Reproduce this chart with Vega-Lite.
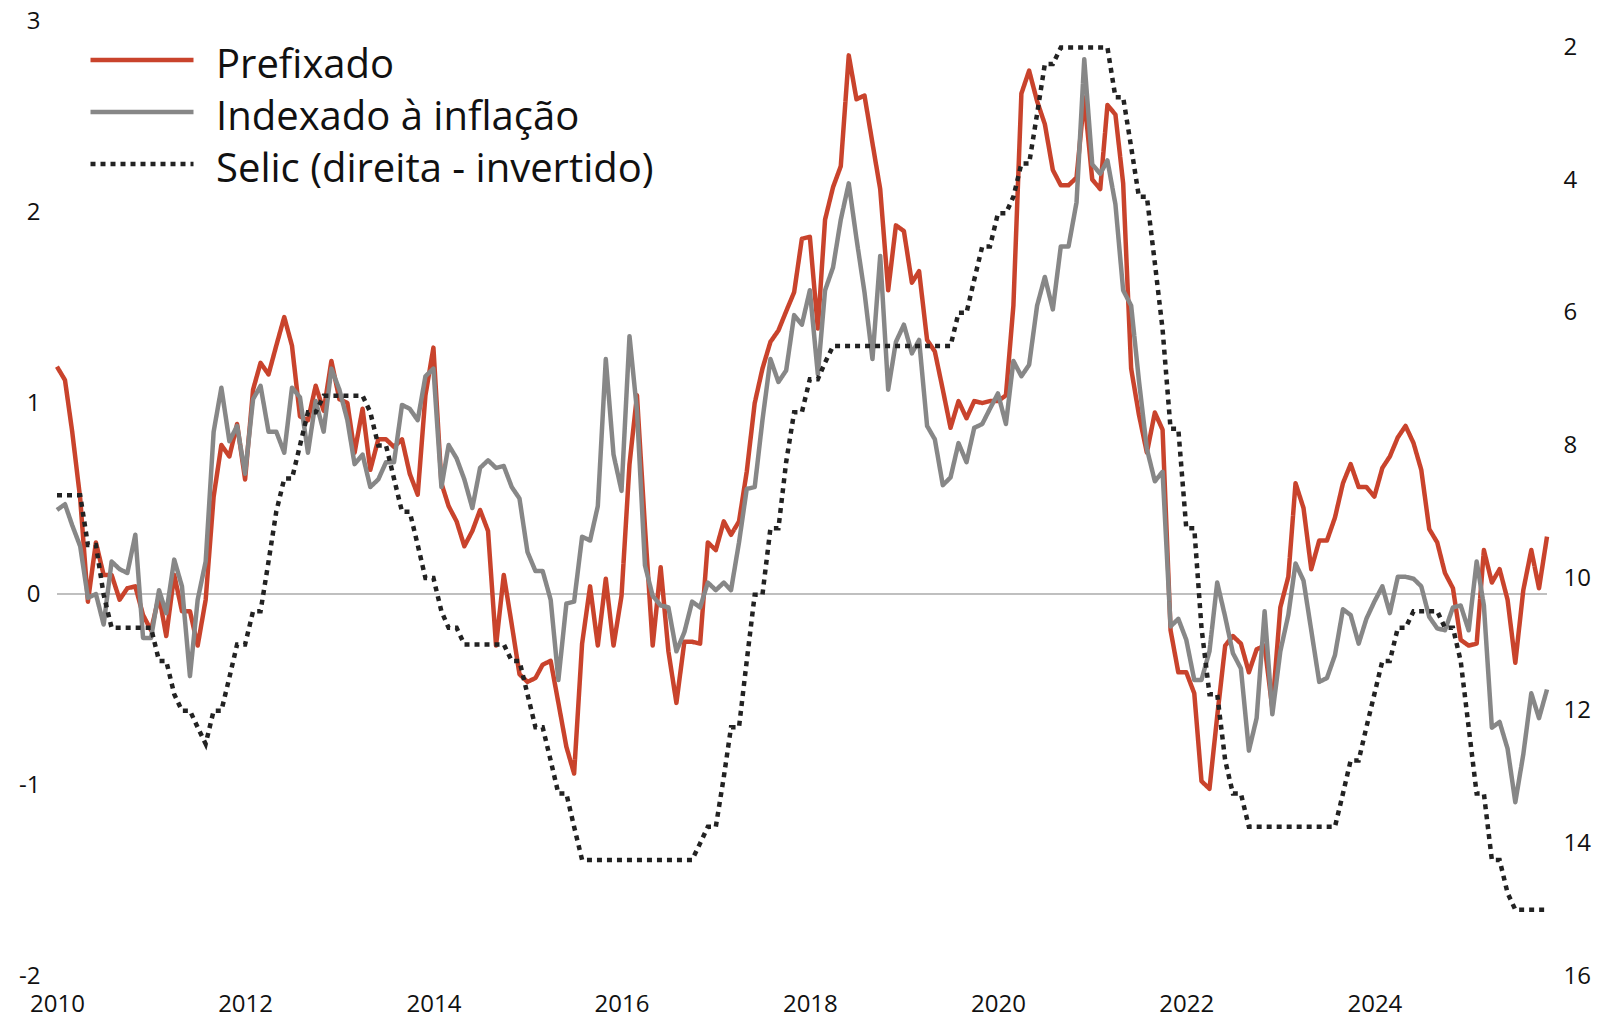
{
"$schema": "https://vega.github.io/schema/vega-lite/v6.json",
"width": 1490, "height": 955,
"autosize": {"type": "none"},
"padding": {"left": 57, "top": 21, "right": 54, "bottom": 41},
"background": "white",
"config": {"view": {"stroke": null}, "font": "Open Sans"},
"data": {"values": [
{"d":"2010-01-01","p":1.19,"i":0.44,"s":8.75},
{"d":"2010-02-01","p":1.12,"i":0.47,"s":8.75},
{"d":"2010-03-01","p":0.85,"i":0.36,"s":8.75},
{"d":"2010-04-01","p":0.50,"i":0.25,"s":8.75},
{"d":"2010-05-01","p":-0.04,"i":-0.02,"s":9.5},
{"d":"2010-06-01","p":0.27,"i":0.00,"s":9.5},
{"d":"2010-07-01","p":0.10,"i":-0.16,"s":10.25},
{"d":"2010-08-01","p":0.10,"i":0.17,"s":10.75},
{"d":"2010-09-01","p":-0.03,"i":0.13,"s":10.75},
{"d":"2010-10-01","p":0.03,"i":0.11,"s":10.75},
{"d":"2010-11-01","p":0.04,"i":0.31,"s":10.75},
{"d":"2010-12-01","p":-0.11,"i":-0.23,"s":10.75},
{"d":"2011-01-01","p":-0.19,"i":-0.23,"s":10.75},
{"d":"2011-02-01","p":-0.01,"i":0.02,"s":11.25},
{"d":"2011-03-01","p":-0.22,"i":-0.10,"s":11.25},
{"d":"2011-04-01","p":0.10,"i":0.18,"s":11.75},
{"d":"2011-05-01","p":-0.09,"i":0.04,"s":12},
{"d":"2011-06-01","p":-0.09,"i":-0.43,"s":12},
{"d":"2011-07-01","p":-0.27,"i":-0.03,"s":12.25},
{"d":"2011-08-01","p":-0.03,"i":0.17,"s":12.5},
{"d":"2011-09-01","p":0.51,"i":0.85,"s":12},
{"d":"2011-10-01","p":0.78,"i":1.08,"s":12},
{"d":"2011-11-01","p":0.72,"i":0.80,"s":11.5},
{"d":"2011-12-01","p":0.89,"i":0.88,"s":11},
{"d":"2012-01-01","p":0.60,"i":0.63,"s":11},
{"d":"2012-02-01","p":1.07,"i":1.02,"s":10.5},
{"d":"2012-03-01","p":1.21,"i":1.09,"s":10.5},
{"d":"2012-04-01","p":1.15,"i":0.85,"s":9.75},
{"d":"2012-05-01","p":1.30,"i":0.85,"s":9},
{"d":"2012-06-01","p":1.45,"i":0.74,"s":8.5},
{"d":"2012-07-01","p":1.30,"i":1.08,"s":8.5},
{"d":"2012-08-01","p":0.93,"i":1.03,"s":8},
{"d":"2012-09-01","p":0.91,"i":0.74,"s":7.5},
{"d":"2012-10-01","p":1.09,"i":1.01,"s":7.5},
{"d":"2012-11-01","p":0.96,"i":0.85,"s":7.25},
{"d":"2012-12-01","p":1.22,"i":1.18,"s":7.25},
{"d":"2013-01-01","p":1.02,"i":1.07,"s":7.25},
{"d":"2013-02-01","p":1.00,"i":0.91,"s":7.25},
{"d":"2013-03-01","p":0.74,"i":0.68,"s":7.25},
{"d":"2013-04-01","p":0.97,"i":0.73,"s":7.25},
{"d":"2013-05-01","p":0.65,"i":0.56,"s":7.5},
{"d":"2013-06-01","p":0.81,"i":0.60,"s":8},
{"d":"2013-07-01","p":0.81,"i":0.69,"s":8},
{"d":"2013-08-01","p":0.77,"i":0.69,"s":8.5},
{"d":"2013-09-01","p":0.81,"i":0.99,"s":9},
{"d":"2013-10-01","p":0.63,"i":0.97,"s":9},
{"d":"2013-11-01","p":0.52,"i":0.91,"s":9.5},
{"d":"2013-12-01","p":1.04,"i":1.14,"s":10},
{"d":"2014-01-01","p":1.29,"i":1.18,"s":10},
{"d":"2014-02-01","p":0.58,"i":0.56,"s":10.5},
{"d":"2014-03-01","p":0.46,"i":0.78,"s":10.75},
{"d":"2014-04-01","p":0.38,"i":0.71,"s":10.75},
{"d":"2014-05-01","p":0.25,"i":0.60,"s":11},
{"d":"2014-06-01","p":0.33,"i":0.45,"s":11},
{"d":"2014-07-01","p":0.44,"i":0.66,"s":11},
{"d":"2014-08-01","p":0.33,"i":0.70,"s":11},
{"d":"2014-09-01","p":-0.27,"i":0.66,"s":11},
{"d":"2014-10-01","p":0.10,"i":0.67,"s":11},
{"d":"2014-11-01","p":-0.16,"i":0.56,"s":11.25},
{"d":"2014-12-01","p":-0.42,"i":0.50,"s":11.25},
{"d":"2015-01-01","p":-0.46,"i":0.22,"s":11.75},
{"d":"2015-02-01","p":-0.44,"i":0.12,"s":12.25},
{"d":"2015-03-01","p":-0.37,"i":0.12,"s":12.25},
{"d":"2015-04-01","p":-0.35,"i":-0.03,"s":12.75},
{"d":"2015-05-01","p":-0.57,"i":-0.45,"s":13.25},
{"d":"2015-06-01","p":-0.80,"i":-0.05,"s":13.25},
{"d":"2015-07-01","p":-0.94,"i":-0.04,"s":13.75},
{"d":"2015-08-01","p":-0.26,"i":0.30,"s":14.25},
{"d":"2015-09-01","p":0.04,"i":0.28,"s":14.25},
{"d":"2015-10-01","p":-0.27,"i":0.46,"s":14.25},
{"d":"2015-11-01","p":0.08,"i":1.23,"s":14.25},
{"d":"2015-12-01","p":-0.27,"i":0.73,"s":14.25},
{"d":"2016-01-01","p":-0.01,"i":0.54,"s":14.25},
{"d":"2016-02-01","p":0.68,"i":1.35,"s":14.25},
{"d":"2016-03-01","p":1.04,"i":0.96,"s":14.25},
{"d":"2016-04-01","p":0.35,"i":0.15,"s":14.25},
{"d":"2016-05-01","p":-0.27,"i":-0.01,"s":14.25},
{"d":"2016-06-01","p":0.14,"i":-0.06,"s":14.25},
{"d":"2016-07-01","p":-0.30,"i":-0.07,"s":14.25},
{"d":"2016-08-01","p":-0.57,"i":-0.30,"s":14.25},
{"d":"2016-09-01","p":-0.25,"i":-0.20,"s":14.25},
{"d":"2016-10-01","p":-0.25,"i":-0.04,"s":14.25},
{"d":"2016-11-01","p":-0.26,"i":-0.07,"s":14},
{"d":"2016-12-01","p":0.27,"i":0.06,"s":13.75},
{"d":"2017-01-01","p":0.23,"i":0.02,"s":13.75},
{"d":"2017-02-01","p":0.38,"i":0.06,"s":13},
{"d":"2017-03-01","p":0.31,"i":0.02,"s":12.25},
{"d":"2017-04-01","p":0.38,"i":0.27,"s":12.25},
{"d":"2017-05-01","p":0.64,"i":0.55,"s":11.25},
{"d":"2017-06-01","p":1.00,"i":0.56,"s":10.25},
{"d":"2017-07-01","p":1.18,"i":0.91,"s":10.25},
{"d":"2017-08-01","p":1.32,"i":1.23,"s":9.25},
{"d":"2017-09-01","p":1.38,"i":1.11,"s":9.25},
{"d":"2017-10-01","p":1.48,"i":1.17,"s":8.25},
{"d":"2017-11-01","p":1.58,"i":1.46,"s":7.5},
{"d":"2017-12-01","p":1.86,"i":1.41,"s":7.5},
{"d":"2018-01-01","p":1.87,"i":1.59,"s":7},
{"d":"2018-02-01","p":1.39,"i":1.15,"s":7},
{"d":"2018-03-01","p":1.96,"i":1.59,"s":6.75},
{"d":"2018-04-01","p":2.13,"i":1.71,"s":6.5},
{"d":"2018-05-01","p":2.24,"i":1.96,"s":6.5},
{"d":"2018-06-01","p":2.82,"i":2.15,"s":6.5},
{"d":"2018-07-01","p":2.59,"i":1.86,"s":6.5},
{"d":"2018-08-01","p":2.61,"i":1.58,"s":6.5},
{"d":"2018-09-01","p":2.36,"i":1.23,"s":6.5},
{"d":"2018-10-01","p":2.12,"i":1.77,"s":6.5},
{"d":"2018-11-01","p":1.59,"i":1.07,"s":6.5},
{"d":"2018-12-01","p":1.93,"i":1.32,"s":6.5},
{"d":"2019-01-01","p":1.90,"i":1.41,"s":6.5},
{"d":"2019-02-01","p":1.63,"i":1.26,"s":6.5},
{"d":"2019-03-01","p":1.69,"i":1.33,"s":6.5},
{"d":"2019-04-01","p":1.33,"i":0.88,"s":6.5},
{"d":"2019-05-01","p":1.27,"i":0.81,"s":6.5},
{"d":"2019-06-01","p":1.07,"i":0.57,"s":6.5},
{"d":"2019-07-01","p":0.87,"i":0.61,"s":6.5},
{"d":"2019-08-01","p":1.01,"i":0.79,"s":6},
{"d":"2019-09-01","p":0.92,"i":0.69,"s":6},
{"d":"2019-10-01","p":1.01,"i":0.87,"s":5.5},
{"d":"2019-11-01","p":1.00,"i":0.89,"s":5},
{"d":"2019-12-01","p":1.01,"i":0.97,"s":5},
{"d":"2020-01-01","p":1.01,"i":1.05,"s":4.5},
{"d":"2020-02-01","p":1.04,"i":0.89,"s":4.5},
{"d":"2020-03-01","p":1.51,"i":1.22,"s":4.25},
{"d":"2020-04-01","p":2.62,"i":1.14,"s":3.75},
{"d":"2020-05-01","p":2.74,"i":1.20,"s":3.75},
{"d":"2020-06-01","p":2.58,"i":1.51,"s":3},
{"d":"2020-07-01","p":2.46,"i":1.66,"s":2.25},
{"d":"2020-08-01","p":2.22,"i":1.49,"s":2.25},
{"d":"2020-09-01","p":2.14,"i":1.82,"s":2},
{"d":"2020-10-01","p":2.14,"i":1.82,"s":2},
{"d":"2020-11-01","p":2.18,"i":2.05,"s":2},
{"d":"2020-12-01","p":2.60,"i":2.80,"s":2},
{"d":"2021-01-01","p":2.17,"i":2.25,"s":2},
{"d":"2021-02-01","p":2.12,"i":2.20,"s":2},
{"d":"2021-03-01","p":2.56,"i":2.27,"s":2},
{"d":"2021-04-01","p":2.51,"i":2.04,"s":2.75},
{"d":"2021-05-01","p":2.15,"i":1.59,"s":2.75},
{"d":"2021-06-01","p":1.18,"i":1.51,"s":3.5},
{"d":"2021-07-01","p":0.94,"i":1.12,"s":4.25},
{"d":"2021-08-01","p":0.74,"i":0.76,"s":4.25},
{"d":"2021-09-01","p":0.95,"i":0.59,"s":5.25},
{"d":"2021-10-01","p":0.86,"i":0.64,"s":6.25},
{"d":"2021-11-01","p":-0.19,"i":-0.17,"s":7.75},
{"d":"2021-12-01","p":-0.41,"i":-0.13,"s":7.75},
{"d":"2022-01-01","p":-0.41,"i":-0.24,"s":9.25},
{"d":"2022-02-01","p":-0.52,"i":-0.45,"s":9.25},
{"d":"2022-03-01","p":-0.98,"i":-0.45,"s":10.75},
{"d":"2022-04-01","p":-1.02,"i":-0.30,"s":11.75},
{"d":"2022-05-01","p":-0.64,"i":0.06,"s":11.75},
{"d":"2022-06-01","p":-0.27,"i":-0.12,"s":12.75},
{"d":"2022-07-01","p":-0.22,"i":-0.31,"s":13.25},
{"d":"2022-08-01","p":-0.26,"i":-0.39,"s":13.25},
{"d":"2022-09-01","p":-0.41,"i":-0.82,"s":13.75},
{"d":"2022-10-01","p":-0.29,"i":-0.65,"s":13.75},
{"d":"2022-11-01","p":-0.27,"i":-0.09,"s":13.75},
{"d":"2022-12-01","p":-0.60,"i":-0.63,"s":13.75},
{"d":"2023-01-01","p":-0.07,"i":-0.30,"s":13.75},
{"d":"2023-02-01","p":0.09,"i":-0.11,"s":13.75},
{"d":"2023-03-01","p":0.58,"i":0.16,"s":13.75},
{"d":"2023-04-01","p":0.45,"i":0.07,"s":13.75},
{"d":"2023-05-01","p":0.13,"i":-0.19,"s":13.75},
{"d":"2023-06-01","p":0.28,"i":-0.46,"s":13.75},
{"d":"2023-07-01","p":0.28,"i":-0.44,"s":13.75},
{"d":"2023-08-01","p":0.40,"i":-0.32,"s":13.75},
{"d":"2023-09-01","p":0.58,"i":-0.08,"s":13.25},
{"d":"2023-10-01","p":0.68,"i":-0.11,"s":12.75},
{"d":"2023-11-01","p":0.56,"i":-0.26,"s":12.75},
{"d":"2023-12-01","p":0.56,"i":-0.13,"s":12.25},
{"d":"2024-01-01","p":0.51,"i":-0.04,"s":11.75},
{"d":"2024-02-01","p":0.66,"i":0.04,"s":11.25},
{"d":"2024-03-01","p":0.72,"i":-0.10,"s":11.25},
{"d":"2024-04-01","p":0.82,"i":0.09,"s":10.75},
{"d":"2024-05-01","p":0.88,"i":0.09,"s":10.75},
{"d":"2024-06-01","p":0.79,"i":0.08,"s":10.5},
{"d":"2024-07-01","p":0.65,"i":0.04,"s":10.5},
{"d":"2024-08-01","p":0.34,"i":-0.12,"s":10.5},
{"d":"2024-09-01","p":0.27,"i":-0.18,"s":10.5},
{"d":"2024-10-01","p":0.11,"i":-0.19,"s":10.75},
{"d":"2024-11-01","p":0.03,"i":-0.07,"s":10.75},
{"d":"2024-12-01","p":-0.24,"i":-0.06,"s":11.25},
{"d":"2025-01-01","p":-0.27,"i":-0.19,"s":12.25},
{"d":"2025-02-01","p":-0.26,"i":0.17,"s":13.25},
{"d":"2025-03-01","p":0.23,"i":-0.06,"s":13.25},
{"d":"2025-04-01","p":0.06,"i":-0.70,"s":14.25},
{"d":"2025-05-01","p":0.13,"i":-0.67,"s":14.25},
{"d":"2025-06-01","p":-0.03,"i":-0.81,"s":14.75},
{"d":"2025-07-01","p":-0.36,"i":-1.09,"s":15},
{"d":"2025-08-01","p":0.02,"i":-0.84,"s":15},
{"d":"2025-09-01","p":0.23,"i":-0.52,"s":15},
{"d":"2025-10-01","p":0.03,"i":-0.65,"s":15},
{"d":"2025-11-01","p":0.30,"i":-0.50,"s":15}
]},
"layer": [
{"layer": [
 {"mark": {"type": "rule", "color": "#BFBFBF", "strokeWidth": 1},
  "encoding": {"y": {"datum": 0, "type": "quantitative", "scale": {"domain": [-2, 3], "nice": false, "zero": false},
   "axis": {"orient": "left", "values": [-2, -1, 0, 1, 2, 3], "labelExpr": "'' + datum.value", "domain": false, "ticks": false, "grid": false, "title": null, "labelFontSize": 24, "labelFont": "Open Sans", "labelColor": "#111111", "labelPadding": 17}}}},
 {"transform": [{"fold": ["p"]}],
  "mark": {"type": "line", "strokeWidth": 4.5, "strokeJoin": "round"},
  "encoding": {
   "x": {"field": "d", "type": "temporal", "scale": {"domain": [{"year": 2010, "month": 1, "date": 1}, {"year": 2025, "month": 11, "date": 1}]},
    "axis": {"values": [{"year": 2010}, {"year": 2012}, {"year": 2014}, {"year": 2016}, {"year": 2018}, {"year": 2020}, {"year": 2022}, {"year": 2024}], "format": "%Y", "labelFlush": false, "labelOverlap": false, "domain": false, "ticks": false, "grid": false, "title": null, "labelFontSize": 24, "labelFont": "Open Sans", "labelColor": "#111111", "labelBaseline": "alphabetic", "labelPadding": 35}},
   "y": {"field": "value", "type": "quantitative", "scale": {"domain": [-2, 3], "nice": false, "zero": false},
    "axis": {"orient": "left", "values": [-2, -1, 0, 1, 2, 3], "labelExpr": "'' + datum.value", "domain": false, "ticks": false, "grid": false, "title": null, "labelFontSize": 24, "labelFont": "Open Sans", "labelColor": "#111111", "labelPadding": 17}},
   "color": {"field": "key", "type": "nominal", "scale": {"domain": ["p", "i", "s"], "range": ["#C9432C", "#878787", "#222222"]},
    "legend": {"orient": "none", "legendX": 31, "legendY": 19, "title": null, "symbolType": "stroke", "symbolSize": 10609, "symbolStrokeWidth": 4.5, "labelFontSize": 40, "labelFont": "Open Sans", "labelColor": "#111111", "labelOffset": 20, "rowPadding": 6, "clipHeight": 40, "padding": 0, "labelLimit": 900, "labelExpr": "datum.value == 'p' ? 'Prefixado' : datum.value == 'i' ? 'Indexado à inflação' : 'Selic (direita - invertido)'", "encode": {"labels": {"update": {"dy": {"value": 6}}}}}},
   "strokeDash": {"field": "key", "type": "nominal", "scale": {"domain": ["p", "i", "s"], "range": [[1, 0], [1, 0], [5, 5]]},
    "legend": {"orient": "none", "legendX": 31, "legendY": 19, "title": null, "symbolType": "stroke", "symbolSize": 10609, "symbolStrokeWidth": 4.5, "labelFontSize": 40, "labelFont": "Open Sans", "labelColor": "#111111", "labelOffset": 20, "rowPadding": 6, "clipHeight": 40, "padding": 0, "labelLimit": 900, "labelExpr": "datum.value == 'p' ? 'Prefixado' : datum.value == 'i' ? 'Indexado à inflação' : 'Selic (direita - invertido)'", "encode": {"labels": {"update": {"dy": {"value": 6}}}}}}
  }},
 {"transform": [{"fold": ["i"]}],
  "mark": {"type": "line", "strokeWidth": 4.5, "strokeJoin": "round"},
  "encoding": {
   "x": {"field": "d", "type": "temporal"},
   "y": {"field": "value", "type": "quantitative", "scale": {"domain": [-2, 3], "nice": false, "zero": false},
    "axis": {"orient": "left", "values": [-2, -1, 0, 1, 2, 3], "labelExpr": "'' + datum.value", "domain": false, "ticks": false, "grid": false, "title": null, "labelFontSize": 24, "labelFont": "Open Sans", "labelColor": "#111111", "labelPadding": 17}},
   "color": {"field": "key", "type": "nominal"},
   "strokeDash": {"field": "key", "type": "nominal"}
  }}
]},
{"transform": [{"fold": ["s"]}],
 "mark": {"type": "line", "strokeWidth": 4.5, "strokeCap": "butt"},
 "encoding": {
  "x": {"field": "d", "type": "temporal"},
  "y": {"field": "value", "type": "quantitative", "scale": {"domain": [1.6, 16], "reverse": true, "nice": false, "zero": false},
   "axis": {"orient": "right", "values": [2, 4, 6, 8, 10, 12, 14, 16], "labelExpr": "'' + datum.value", "domain": false, "ticks": false, "grid": false, "title": null, "labelFontSize": 24, "labelFont": "Open Sans", "labelColor": "#111111", "labelPadding": 16, "labelAlign": "left"}},
  "color": {"field": "key", "type": "nominal"},
  "strokeDash": {"field": "key", "type": "nominal"}
 }}
],
"resolve": {"scale": {"y": "independent"}, "axis": {"y": "independent"}}
}
